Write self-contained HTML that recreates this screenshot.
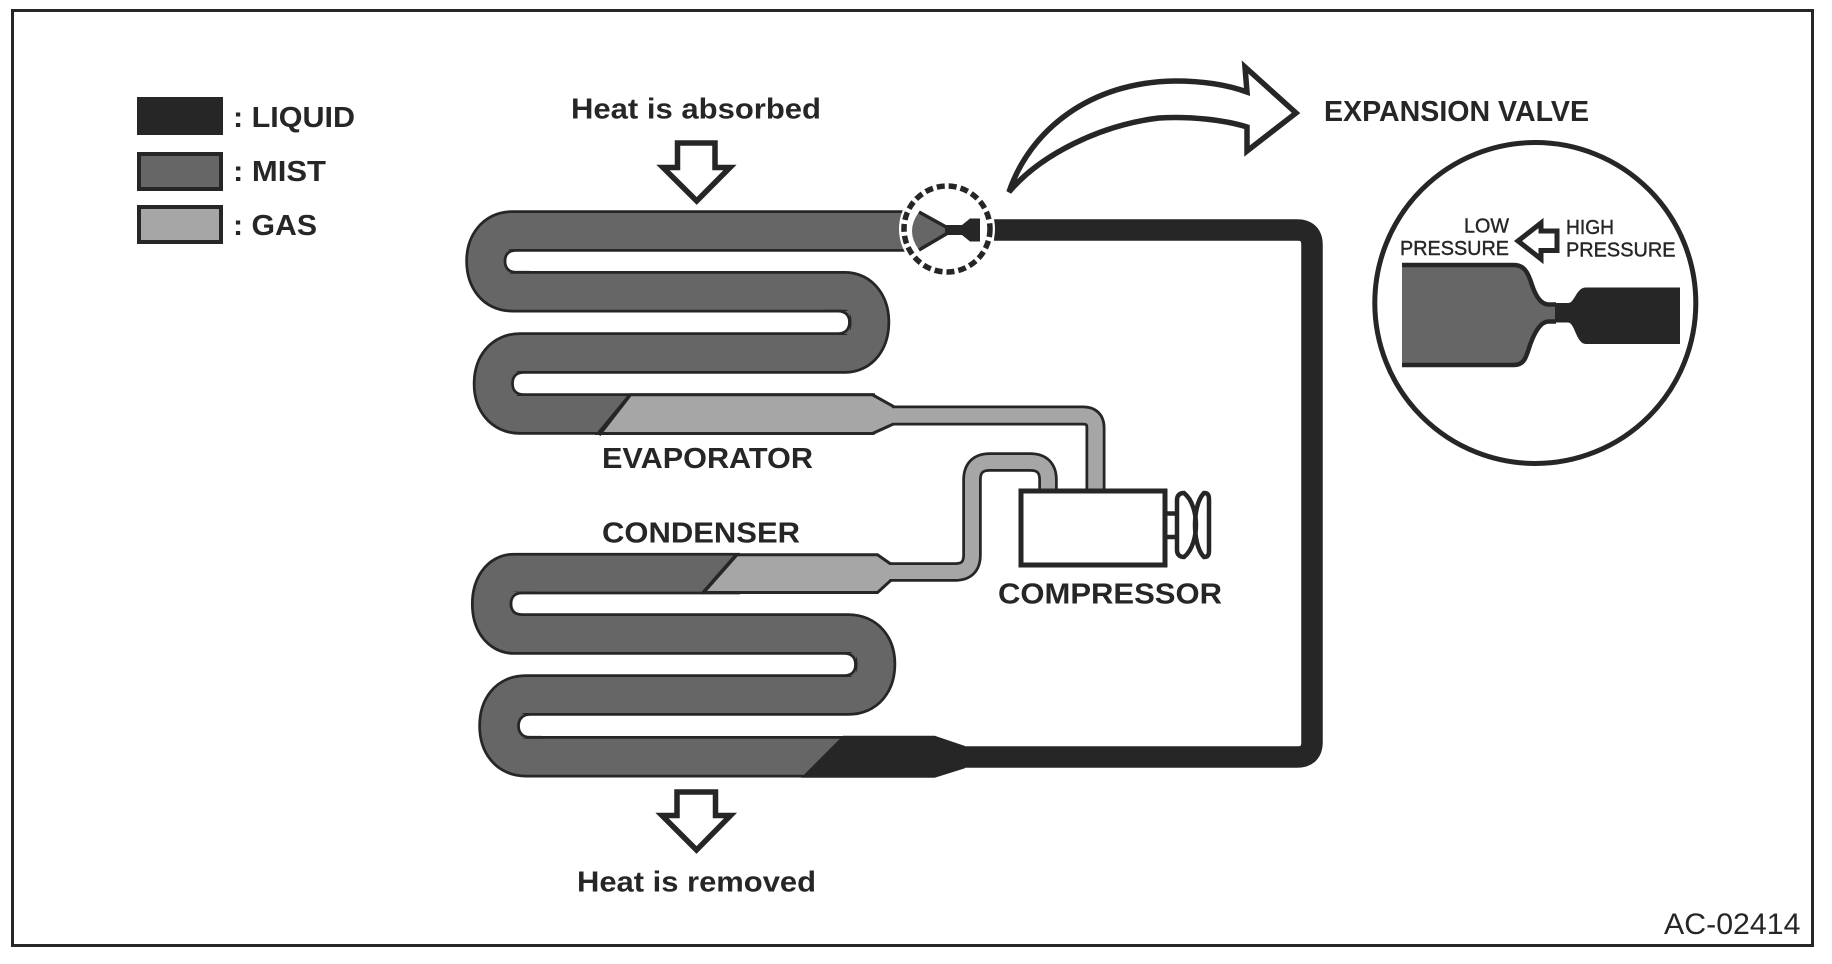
<!DOCTYPE html>
<html>
<head>
<meta charset="utf-8">
<style>
html,body{margin:0;padding:0;background:#fff;width:1832px;height:964px;overflow:hidden}
svg{display:block}
text{font-family:"Liberation Sans",Arial,sans-serif;fill:#262626}
.b{font-weight:bold;font-size:29px}
.s{font-size:20px;stroke:#262626;stroke-width:.4px}
</style>
</head>
<body>
<svg width="1832" height="964" viewBox="0 0 1832 964" xmlns="http://www.w3.org/2000/svg">
<rect width="1832" height="964" fill="#fff"/>
<rect x="12.5" y="10.5" width="1800" height="935" fill="none" stroke="#262626" stroke-width="3"/>

<!-- legend -->
<rect x="137" y="97" width="86" height="38" fill="#262626"/>
<rect x="139" y="154" width="82" height="35" fill="#666" stroke="#262626" stroke-width="4"/>
<rect x="139" y="207" width="82" height="35" fill="#a6a6a6" stroke="#262626" stroke-width="4"/>
<text class="b" x="233" y="127" textLength="122" lengthAdjust="spacingAndGlyphs">: LIQUID</text>
<text class="b" x="233" y="181" textLength="93" lengthAdjust="spacingAndGlyphs">: MIST</text>
<text class="b" x="233" y="235" textLength="84" lengthAdjust="spacingAndGlyphs">: GAS</text>

<!-- evaporator -->
<g fill="none">
<path d="M905,231 H512 C495,231 486,245 486,261 C486,278 495,291.7 512,291.7 H845 C860,291.7 869.5,305 869.5,322 C869.5,340 860,353 845,353 H520 C503,353 493.5,366 493.5,384 C493.5,401 503,414 520,414 H875" stroke="#262626" stroke-width="41.5"/>
<path d="M905,231 H512 C495,231 486,245 486,261 C486,278 495,291.7 512,291.7 H845 C860,291.7 869.5,305 869.5,322 C869.5,340 860,353 845,353 H520 C503,353 493.5,366 493.5,384 C493.5,401 503,414 520,414 H875" stroke="#666" stroke-width="36"/>
<path d="M890,415.5 H1083 Q1095.5,415.5 1095.5,428 V490" stroke="#262626" stroke-width="20"/>
</g>
<!-- evaporator slot ends -->
<g fill="#666">
<rect x="504" y="250" width="16" height="23"/>
<rect x="834" y="311" width="16" height="23"/>
<rect x="511" y="372" width="16" height="23"/>
</g>
<g fill="#fff" stroke="#262626" stroke-width="2.75">
<path d="M530,250.4 H516 C508,250.4 505,255 505,261.3 C505,267 508,272.3 516,272.3 H530"/>
<path d="M825,311.1 H838 C846,311.1 849.5,316 849.5,322.3 C849.5,328.5 846,333.6 838,333.6 H825"/>
<path d="M537,372.4 H524 C516,372.4 512.5,377 512.5,383.5 C512.5,390 516,394.6 524,394.6 H537"/>
</g>
<path d="M630,394.8 H872.5 L893.5,406.5 V424 L872.5,433.5 H598 Z" fill="#a6a6a6" stroke="#262626" stroke-width="3"/>
<path d="M885,415.5 H1083 Q1095.5,415.5 1095.5,428 V490" fill="none" stroke="#a6a6a6" stroke-width="14.5"/>
<line x1="630" y1="395" x2="599" y2="435" stroke="#262626" stroke-width="3.5"/>

<!-- condenser -->
<g fill="none">
<path d="M740,573.6 H514 C500,573.6 491.7,587 491.7,604 C491.7,621 500,634 514,634 H848 C866,634 875.5,647 875.5,664 C875.5,682 866,695 848,695 H526 C508,695 499,708 499,726 C499,743 508,756.7 526,756.7 H860" stroke="#262626" stroke-width="41.5"/>
<path d="M740,573.6 H514 C500,573.6 491.7,587 491.7,604 C491.7,621 500,634 514,634 H848 C866,634 875.5,647 875.5,664 C875.5,682 866,695 848,695 H526 C508,695 499,708 499,726 C499,743 508,756.7 526,756.7 H860" stroke="#666" stroke-width="36"/>
<path d="M888,572 H955 Q972,572 972,555 V480 Q972,462 990,462 H1030 Q1048,462 1048,480 V490" stroke="#262626" stroke-width="19.5"/>
</g>
<!-- condenser slot ends -->
<g fill="#666">
<rect x="510" y="592" width="16" height="24"/>
<rect x="840" y="653" width="16" height="23"/>
<rect x="517" y="714" width="16" height="24"/>
</g>
<g fill="#fff" stroke="#262626" stroke-width="2.75">
<path d="M535,593 H522 C514,593 511,598 511,603.8 C511,610 514,614.6 522,614.6 H535"/>
<path d="M830,653.4 H844 C852,653.4 855.5,658 855.5,664.5 C855.5,671 852,675.6 844,675.6 H830"/>
<path d="M542,714.4 H530 C522,714.4 518.5,720 518.5,725.8 C518.5,732 522,737.3 530,737.3 H542"/>
</g>
<path d="M736,554.8 H877.5 L891,564.2 V580.2 L877.5,592.5 H703 Z" fill="#a6a6a6" stroke="#262626" stroke-width="3"/>
<path d="M882,572 H955 Q972,572 972,555 V480 Q972,462 990,462 H1030 Q1048,462 1048,480 V490" fill="none" stroke="#a6a6a6" stroke-width="14"/>
<line x1="736.5" y1="555" x2="702.5" y2="593.5" stroke="#262626" stroke-width="3.5"/>

<!-- liquid line -->
<polygon points="843,735.7 934.7,735.7 965,746 965,768.3 934.7,777.7 801,777.7" fill="#262626"/>
<path d="M960,757 H1297 Q1312,757 1312,742 V245 Q1312,230 1297,230 H994" fill="none" stroke="#262626" stroke-width="21.5"/>

<!-- valve small -->
<circle cx="947" cy="229" r="48" fill="#fff"/>
<path d="M919,212 L947,228.5 V232.5 L919,250 Q905,231 919,212 Z" fill="#666"/>
<path d="M919,212 L947,227.5 M947,233.5 L919,250" fill="none" stroke="#262626" stroke-width="3.5"/>
<polygon points="945,225 962,225 970,218.5 980,218.5 980,241.5 970,241.5 962,235 945,235" fill="#262626"/>
<circle cx="947" cy="229" r="43" fill="none" stroke="#262626" stroke-width="5.5" stroke-dasharray="8 4"/>

<!-- compressor -->
<rect x="1021" y="491" width="144" height="74" fill="#fff" stroke="#262626" stroke-width="5"/>
<g fill="none" stroke="#262626" stroke-width="4.5">
<line x1="1167" y1="513.5" x2="1178" y2="513.5"/>
<line x1="1167" y1="537" x2="1178" y2="537"/>
<path d="M1184,493 C1180,493 1177,495 1177,500 V550 C1177,555 1180,557 1184,557 C1193,550 1196,535 1196,525 C1196,515 1193,500 1184,493 Z"/>
<path d="M1204,493 C1208,493 1209,495 1209,500 V550 C1209,555 1208,557 1204,557 C1197,550 1195,535 1195,525 C1195,515 1197,500 1204,493 Z"/>
</g>

<!-- heat arrows -->
<path d="M677.5,143 H715 V167.5 H730 L696.7,201 L663,167.5 H677.5 Z" fill="#fff" stroke="#262626" stroke-width="5.5"/>
<path d="M677,792 H715.5 V815.5 H730.5 L696.5,850 L662,815.5 H677 Z" fill="#fff" stroke="#262626" stroke-width="5.5"/>

<!-- big arrow -->
<path d="M1009,192 C1030,130 1090,82 1175,81 C1200,81 1225,84 1247,92 L1245,67 L1296,113 L1247,151 V127 C1225,120 1190,116 1159,118 C1100,125 1040,155 1009,192 Z" fill="#fff" stroke="#262626" stroke-width="5.5" stroke-linejoin="miter"/>

<!-- big circle -->
<circle cx="1535.3" cy="303" r="160.5" fill="#fff" stroke="#262626" stroke-width="5"/>
<path d="M1402,265 H1514 C1524,265 1528,272 1532,285 C1536,297 1541,304 1548,304.5 H1556 V321.5 H1548 C1541,322 1535,331 1530,345 C1526,358 1524,365 1514,365 H1402 Z" fill="#666"/>
<path d="M1402,265 H1514 C1524,265 1528,272 1532,285 C1536,297 1541,304 1548,304.5 H1556 M1402,365 H1514 C1524,365 1526,358 1530,345 C1535,331 1541,322 1548,321.5 H1556" fill="none" stroke="#262626" stroke-width="4.5"/>
<path d="M1555,303 H1568 C1575,303 1576,287.5 1586,287.5 H1680 V344 H1586 C1576,344 1575,322.5 1568,322.5 H1555 Z" fill="#262626"/>

<!-- small arrow -->
<path d="M1518,241 L1541,223 V231 H1557 V250.5 H1541 V259 Z" fill="#fff" stroke="#262626" stroke-width="5"/>

<!-- labels -->
<text class="s" x="1464" y="232.5" textLength="45" lengthAdjust="spacingAndGlyphs">LOW</text>
<text class="s" x="1400" y="255" textLength="109" lengthAdjust="spacingAndGlyphs">PRESSURE</text>
<text class="s" x="1566" y="234" textLength="48" lengthAdjust="spacingAndGlyphs">HIGH</text>
<text class="s" x="1566" y="256.7" textLength="109.5" lengthAdjust="spacingAndGlyphs">PRESSURE</text>

<text class="b" x="1324" y="121" textLength="265" lengthAdjust="spacingAndGlyphs">EXPANSION VALVE</text>
<text class="b" x="571" y="118.5" textLength="250" lengthAdjust="spacingAndGlyphs">Heat is absorbed</text>
<text class="b" x="602" y="468" textLength="211" lengthAdjust="spacingAndGlyphs">EVAPORATOR</text>
<text class="b" x="602" y="542.5" textLength="198" lengthAdjust="spacingAndGlyphs">CONDENSER</text>
<text class="b" x="998" y="603.5" textLength="224" lengthAdjust="spacingAndGlyphs">COMPRESSOR</text>
<text class="b" x="577" y="891.5" textLength="239" lengthAdjust="spacingAndGlyphs">Heat is removed</text>
<text x="1664" y="934" font-size="30" textLength="136.5" lengthAdjust="spacingAndGlyphs">AC-02414</text>
</svg>
</body>
</html>
